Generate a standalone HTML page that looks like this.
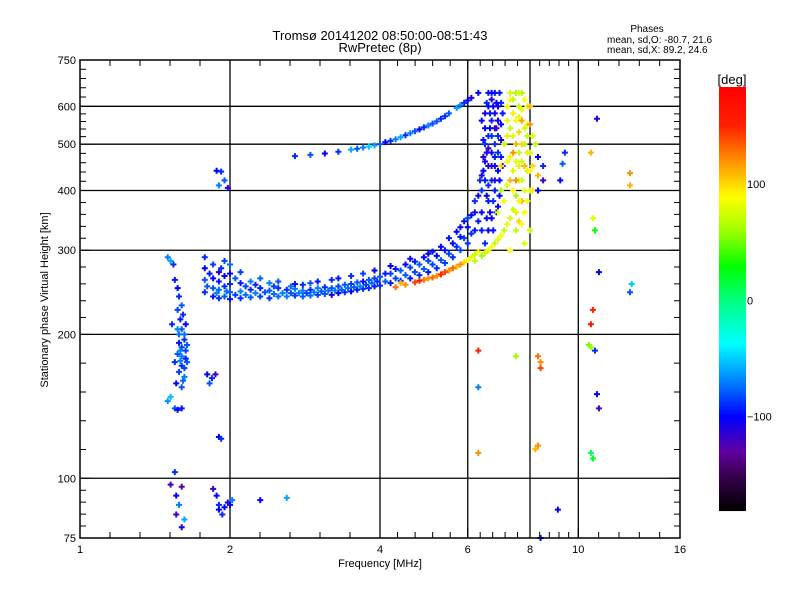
<!DOCTYPE html>
<html><head><meta charset="utf-8">
<style>
html,body{margin:0;padding:0;background:#fff;}
svg{display:block;font-family:"Liberation Sans",sans-serif;}
</style></head>
<body>
<svg id="chart" width="800" height="600" viewBox="0 0 800 600" xmlns="http://www.w3.org/2000/svg">
<rect width="800" height="600" fill="#fff"/>
<text x="380" y="40" font-size="13" text-anchor="middle">Tromsø 20141202 08:50:00-08:51:43</text>
<text x="380" y="52" font-size="13" text-anchor="middle">RwPretec (8p)</text>
<text x="647" y="32" font-size="10" text-anchor="middle">Phases</text>
<text x="607" y="43" font-size="10">mean, sd,O: -80.7, 21.6</text>
<text x="607" y="53" font-size="10">mean, sd,X:  89.2, 24.6</text>
<text x="380" y="567" font-size="11" text-anchor="middle">Frequency [MHz]</text>
<text transform="translate(48,300) rotate(-90)" font-size="11" text-anchor="middle">Stationary phase Virtual Height [km]</text>
<g id="grid"></g>
<g id="points"></g>
<g id="axes"></g>
<g id="cbar"></g>
</svg>
<script>
const xTicks=[1,2,4,6,8,10,16];
const yTicks=[75,100,200,300,400,500,600,750];
const cbarTicks=[100,0,-100];
// points: [frequency MHz, virtual height km, phase deg]
const leftColumn=[[1.5,290,-70],[1.52,285,-60],[1.54,280,-90],[1.57,250,-100],[1.58,240,-90],[1.6,230,-80],[1.57,225,-85],[1.59,215,-95],[1.6,205,-80],[1.58,200,-75],[1.62,195,-90],[1.6,188,-85],[1.57,182,-80],[1.63,178,-95],[1.6,172,-90],[1.58,167,-85],[1.62,163,-70],[1.56,158,-100],[1.64,190,-80],[1.55,175,-90],[1.6,155,-80],[1.52,148,-55],[1.5,145,-65],[1.55,140,-80],[1.57,139,-100],[1.6,140,-95],[1.53,210,-90],[1.63,210,-100],[1.55,260,-95],[1.62,170,-85],[1.59,185,-70],[1.61,220,-90],[1.62,200,-75],[1.6,180,-70],[1.64,175,-80],[1.58,192,-95],[1.61,160,-75],[1.59,176,-70],[1.63,185,-85],[1.57,205,-70]];
const oTrace=[[1.78,245,-90],[1.78,260,-80],[1.78,275,-100],[1.78,290,-90],[1.85,240,-95],[1.85,250,-80],[1.85,262,-100],[1.85,280,-85],[1.9,238,-90],[1.9,248,-75],[1.9,258,-95],[1.9,270,-110],[1.95,240,-80],[1.95,252,-90],[1.95,265,-100],[1.95,285,-85],[2.0,237,-95],[2.0,245,-80],[2.0,255,-90],[2.0,268,-100],[2.0,280,-75],[2.1,238,-90],[2.1,246,-70],[2.1,256,-95],[2.1,270,-85],[2.2,239,-80],[2.2,248,-90],[2.2,258,-70],[2.3,240,-85],[2.3,250,-95],[2.3,262,-75],[2.4,238,-90],[2.4,247,-80],[2.4,256,-70],[2.5,240,-75],[2.5,250,-90],[2.5,258,-80],[2.6,240,-70],[2.6,248,-90],[2.7,241,-85],[2.7,249,-70],[2.7,255,-95],[2.8,240,-80],[2.8,247,-70],[2.8,254,-90],[2.9,241,-75],[2.9,248,-90],[2.9,256,-80],[3.0,242,-85],[3.0,250,-70],[3.0,258,-95],[3.1,243,-80],[3.1,251,-90],[3.2,242,-110],[3.2,250,-80],[3.2,260,-90],[3.3,244,-100],[3.3,252,-85],[3.3,262,-95],[3.4,245,-90],[3.4,254,-80],[3.5,246,-100],[3.5,255,-85],[3.5,265,-90],[3.6,248,-95],[3.6,257,-80],[3.7,249,-90],[3.7,258,-100],[3.7,268,-85],[3.8,250,-90],[3.8,260,-80],[3.9,252,-95],[3.9,262,-85],[3.9,272,-100],[4.0,253,-90],[4.0,264,-80],[4.2,256,-95],[4.2,268,-85],[4.2,278,-100],[4.4,259,-90],[4.4,272,-80],[4.6,262,-95],[4.6,276,-85],[4.6,288,-100],[4.8,266,-90],[4.8,280,-80],[5.0,270,-95],[5.0,285,-85],[5.0,295,-100],[5.2,275,-90],[5.2,292,-100],[5.4,282,-85],[5.4,300,-95],[5.6,290,-90],[5.6,310,-100],[5.8,300,-85],[5.8,320,-95],[5.8,335,-105],[6.0,310,-90],[6.0,335,-100],[6.0,350,-85],[6.2,330,-95],[6.2,360,-105],[6.2,380,-90],[6.4,360,-100],[6.4,400,-90],[6.4,430,-110],[6.5,420,-95],[6.5,460,-105],[6.5,500,-90],[6.5,540,-100],[6.6,380,-95],[6.6,450,-110],[6.6,520,-90],[6.6,600,-100],[6.6,640,-95],[6.7,350,-100],[6.7,420,-90],[6.7,480,-105],[6.7,560,-95],[6.7,620,-110],[6.8,400,-95],[6.8,450,-100],[6.8,500,-90],[6.8,580,-105],[6.8,640,-95],[6.9,440,-100],[6.9,520,-90],[6.9,600,-110],[7.0,470,-95],[7.0,550,-100],[6.45,470,-115],[6.55,390,-100],[6.75,330,-95],[6.9,370,-105],[7.0,610,-90],[6.6,330,-105],[6.4,560,-100],[6.85,540,-120]];
const oTraceFill=[[1.8,252,-80],[1.82,268,-95],[1.88,244,-70],[1.92,275,-90],[1.97,246,-75],[2.05,242,-85],[2.05,262,-80],[2.15,242,-75],[2.15,252,-85],[2.25,244,-70],[2.25,254,-90],[2.35,245,-80],[2.45,243,-75],[2.45,252,-85],[2.55,244,-70],[2.65,244,-80],[2.65,252,-75],[2.75,244,-70],[2.85,244,-85],[2.95,245,-70],[3.05,246,-80],[3.15,247,-75],[3.25,247,-70],[3.35,248,-80],[3.45,250,-75],[3.55,251,-80],[3.65,252,-70],[3.75,254,-85],[3.85,256,-75],[3.95,258,-90],[4.1,258,-80],[4.1,268,-95],[4.3,262,-85],[4.3,274,-95],[4.5,266,-80],[4.5,280,-100],[4.7,270,-85],[4.7,284,-95],[4.9,274,-80],[4.9,290,-100],[5.1,280,-85],[5.1,298,-95],[5.3,286,-80],[5.3,305,-100],[5.5,295,-85],[5.5,318,-95],[5.7,305,-90],[5.7,328,-100],[5.9,318,-85],[5.9,345,-95],[6.1,325,-90],[6.1,355,-100],[6.3,345,-95],[6.3,390,-105],[6.35,420,-90],[6.45,440,-100],[6.45,510,-95],[6.5,580,-110],[6.55,610,-90],[6.55,480,-105],[6.6,410,-90],[6.65,540,-100],[6.65,580,-95],[6.7,450,-110],[6.7,520,-90],[6.75,600,-100],[6.75,380,-90],[6.8,420,-110],[6.8,470,-95],[6.85,610,-100],[6.9,480,-90],[6.9,560,-105],[6.95,420,-100],[6.95,640,-95],[7.0,510,-110],[7.05,580,-95],[6.55,350,-100],[6.65,360,-110],[6.4,330,-95],[6.5,310,-90],[6.85,360,-95],[6.95,390,-100],[7.05,450,-110],[6.6,490,-120],[6.7,640,-100],[6.8,540,-115]];
const oLowerBranch=[[4.3,251,130],[4.5,254,120],[4.7,257,140],[4.9,260,125],[5.1,263,130],[5.3,267,150],[5.5,272,120],[5.7,277,110],[5.9,283,100],[6.1,290,80],[6.3,298,90],[5.0,262,120],[5.6,275,130],[4.4,256,110],[4.8,259,150],[5.2,265,120],[5.4,270,140],[5.8,280,120],[6.0,286,90],[6.2,294,70]];
const xTrace=[[6.2,285,70],[6.4,292,60],[6.6,300,80],[6.8,310,70],[7.0,322,90],[7.2,340,80],[7.4,365,70],[7.5,390,60],[7.6,420,80],[7.7,460,70],[7.8,500,60],[7.9,550,80],[7.6,600,70],[7.5,640,60],[7.3,620,90],[7.2,560,80],[7.1,500,70],[7.0,450,100],[7.0,400,60],[6.9,360,80],[7.3,420,110],[7.5,330,70],[7.8,360,90],[8.0,400,80],[8.1,450,100],[8.2,500,70],[8.0,550,120],[7.9,600,80],[7.7,640,60],[7.4,480,120],[7.6,530,100],[8.3,430,110],[7.8,310,80],[8.0,330,70],[7.3,300,90],[7.6,345,100],[7.2,460,85],[7.4,580,95],[7.7,380,110],[7.9,440,75]];
const xTraceFill=[[6.5,296,75],[6.7,305,90],[6.9,316,80],[7.1,330,70],[7.1,380,90],[7.2,410,80],[7.2,520,95],[7.3,350,75],[7.3,470,85],[7.3,540,70],[7.4,400,90],[7.4,440,75],[7.4,520,80],[7.4,620,70],[7.5,360,95],[7.5,460,80],[7.5,560,90],[7.5,500,110],[7.6,380,85],[7.6,450,95],[7.6,480,70],[7.6,570,80],[7.6,640,75],[7.7,340,90],[7.7,420,75],[7.7,500,100],[7.7,590,85],[7.8,400,80],[7.8,450,110],[7.8,540,75],[7.8,620,90],[7.9,380,85],[7.9,480,95],[7.9,520,70],[8.0,440,90],[8.0,480,75],[8.0,600,110],[8.1,400,95],[8.1,520,80],[7.2,600,85],[7.3,640,75],[7.5,420,120],[7.7,560,115]];
const sparsePoints=[[8.3,470,-100],[8.5,450,-90],[8.3,400,-100],[8.5,420,-120],[9.4,480,-90],[9.3,455,-80],[9.2,420,-100],[6.3,185,150],[6.3,155,-70],[6.3,113,120],[7.5,180,60],[8.3,180,130],[8.4,175,120],[8.4,170,140],[8.2,115,110],[8.3,117,120],[8.4,75,-100],[9.1,86,-100],[10.6,480,110],[10.7,350,80],[10.8,330,30],[10.7,225,150],[10.6,210,160],[10.5,190,50],[10.6,188,60],[10.8,185,-90],[10.9,565,-110],[11,270,-100],[10.9,150,-100],[11,140,-120],[10.7,110,20],[10.6,113,10],[12.7,435,120],[12.7,410,110],[12.8,255,-50],[12.7,245,-80]];
const upperTrace=[[2.7,472,-90],[2.9,475,-80],[3.1,478,-100],[3.3,482,-90],[3.5,487,-60],[3.7,492,-70],[3.9,497,-60],[4.0,500,-80],[4.1,505,-100],[4.3,512,-70],[4.5,522,-90],[4.7,532,-80],[4.9,542,-90],[5.1,552,-80],[5.3,565,-90],[5.5,580,-80],[5.7,595,-60],[5.9,610,-90],[6.1,625,-110],[6.3,640,-100],[3.8,494,-50],[4.4,517,-60],[5.0,547,-70],[3.6,489,-80],[4.2,508,-90],[4.6,527,-70],[4.8,537,-100],[5.2,558,-80],[5.4,572,-90],[5.8,603,-70],[6.0,617,-100]];
const spots=[[1.88,440,-100],[1.92,438,-90],[1.95,420,-80],[1.98,405,-110],[1.9,410,-70],[1.8,165,-100],[1.84,162,-90],[1.87,165,-120],[1.82,158,-80],[1.9,122,-100],[1.92,121,-90],[1.55,103,-90],[1.52,97,-120],[1.6,96,-130],[1.56,92,-100],[1.58,88,-70],[1.56,84,-120],[1.62,82,-60],[1.6,79,-110],[1.85,95,-120],[1.88,92,-100],[1.9,88,-90],[1.95,87,-100],[1.98,89,-110],[2.0,88,-100],[1.9,86,-100],[1.93,84,-90],[2.02,90,-70],[2.3,90,-100],[2.6,91,-60]];

const NS='http://www.w3.org/2000/svg';
const X0=80,X1=680,Y0=538,Y1=60;
function xScale(f){return X0+(X1-X0)*Math.log2(f)/4;}
function yScale(h){return Y0-(Y0-Y1)*Math.log10(h/75);}
const cStops=[[-181,[0,0,0]],[-150,[58,0,80]],[-130,[96,0,160]],[-100,[0,0,255]],[-70,[0,128,255]],[-37,[0,255,255]],[0,[0,255,128]],[29,[0,255,0]],[60,[160,255,0]],[89,[255,255,0]],[120,[255,144,0]],[150,[255,32,0]],[183,[255,0,0]]];
function color(p){
  if(p<=cStops[0][0])return 'rgb(0,0,0)';
  for(let i=1;i<cStops.length;i++){
    if(p<=cStops[i][0]){const a=cStops[i-1],b=cStops[i];const t=(p-a[0])/(b[0]-a[0]);
      const c=a[1].map((v,k)=>Math.round(v+(b[1][k]-v)*t));return `rgb(${c[0]},${c[1]},${c[2]})`;}
  }
  return 'rgb(255,0,0)';
}
function el(tag,attrs,parent){const e=document.createElementNS(NS,tag);for(const k in attrs)e.setAttribute(k,attrs[k]);parent.appendChild(e);return e;}
const grid=document.getElementById('grid'),axes=document.getElementById('axes'),pts=document.getElementById('points'),cbar=document.getElementById('cbar');

xTicks.slice(1,-1).forEach(t=>{const l=el('line',{x1:xScale(t),x2:xScale(t),y1:Y1,y2:Y0,stroke:'#000','stroke-width':1.3},grid);

});
yTicks.slice(1,-1).forEach(t=>{const l=el('line',{x1:X0,x2:X1,y1:yScale(t),y2:yScale(t),stroke:'#000','stroke-width':1.3},grid);

});

[['left-column',leftColumn],['o-trace',oTrace],['o-trace',oTraceFill],['o-lower-branch',oLowerBranch],['x-trace',xTrace],['x-trace',xTraceFill],['sparse',sparsePoints],['upper-trace',upperTrace],['spots',spots]].forEach(([name,arr])=>{
  arr.forEach(d=>{const x=xScale(d[0]),y=yScale(d[1]);
    const p=el('path',{d:`M${x-3},${y}h6M${x},${y-3}v6`,stroke:color(d[2]),'stroke-width':2,fill:'none'},pts);
    
    
  });
});

const fr=el('rect',{x:X0,y:Y1,width:X1-X0,height:Y0-Y1,fill:'none',stroke:'#000','stroke-width':1.5},axes);


for(let i=0;i<xTicks.length;i++){
  const px=xScale(xTicks[i]);
  const tk=el('path',{d:`M${px},${Y0}v-10M${px},${Y1}v10`,stroke:'#000','stroke-width':1},axes);
  
  
  const lb=el('text',{x:px,y:553,'font-size':11,'text-anchor':'middle'},axes);lb.textContent=xTicks[i];
  
  
  if(i<xTicks.length-1){const nx=xScale(xTicks[i+1]);
    for(let k=1;k<5;k++){const mx=px+(nx-px)*k/5;
      const m=el('path',{d:`M${mx},${Y0}v-6M${mx},${Y1}v6`,stroke:'#000','stroke-width':1},axes);
      
      }}
}
for(let i=0;i<yTicks.length;i++){
  const py=yScale(yTicks[i]);
  const tk=el('path',{d:`M${X0},${py}h10M${X1},${py}h-10`,stroke:'#000','stroke-width':1},axes);
  
  
  const lb=el('text',{x:76,y:py+4,'font-size':11,'text-anchor':'end'},axes);lb.textContent=yTicks[i];
  
  
  if(i<yTicks.length-1){const ny=yScale(yTicks[i+1]);
    for(let k=1;k<5;k++){const my=py+(ny-py)*k/5;
      const m=el('path',{d:`M${X0},${my}h6M${X1},${my}h-6`,stroke:'#000','stroke-width':1},axes);
      
      }}
}
const CB0=511,CB1=87;
function cbY(p){return 184-(p-100)*1.163;}
for(let y=CB1;y<CB0;y++){const p=100-(y+0.5-184)/1.163;
  const r=el('rect',{x:719,y:y,width:27,height:1.05,fill:color(p)},cbar);
  
  }
cbarTicks.forEach(t=>{const lb=el('text',{x:747,y:cbY(t)+4,'font-size':11},cbar);lb.textContent=(t<0?'\u2212':'')+Math.abs(t);
  
  });
const u=el('text',{x:732,y:84,'font-size':13,'text-anchor':'middle'},cbar);u.textContent='[deg]';


</script>
</body></html>
